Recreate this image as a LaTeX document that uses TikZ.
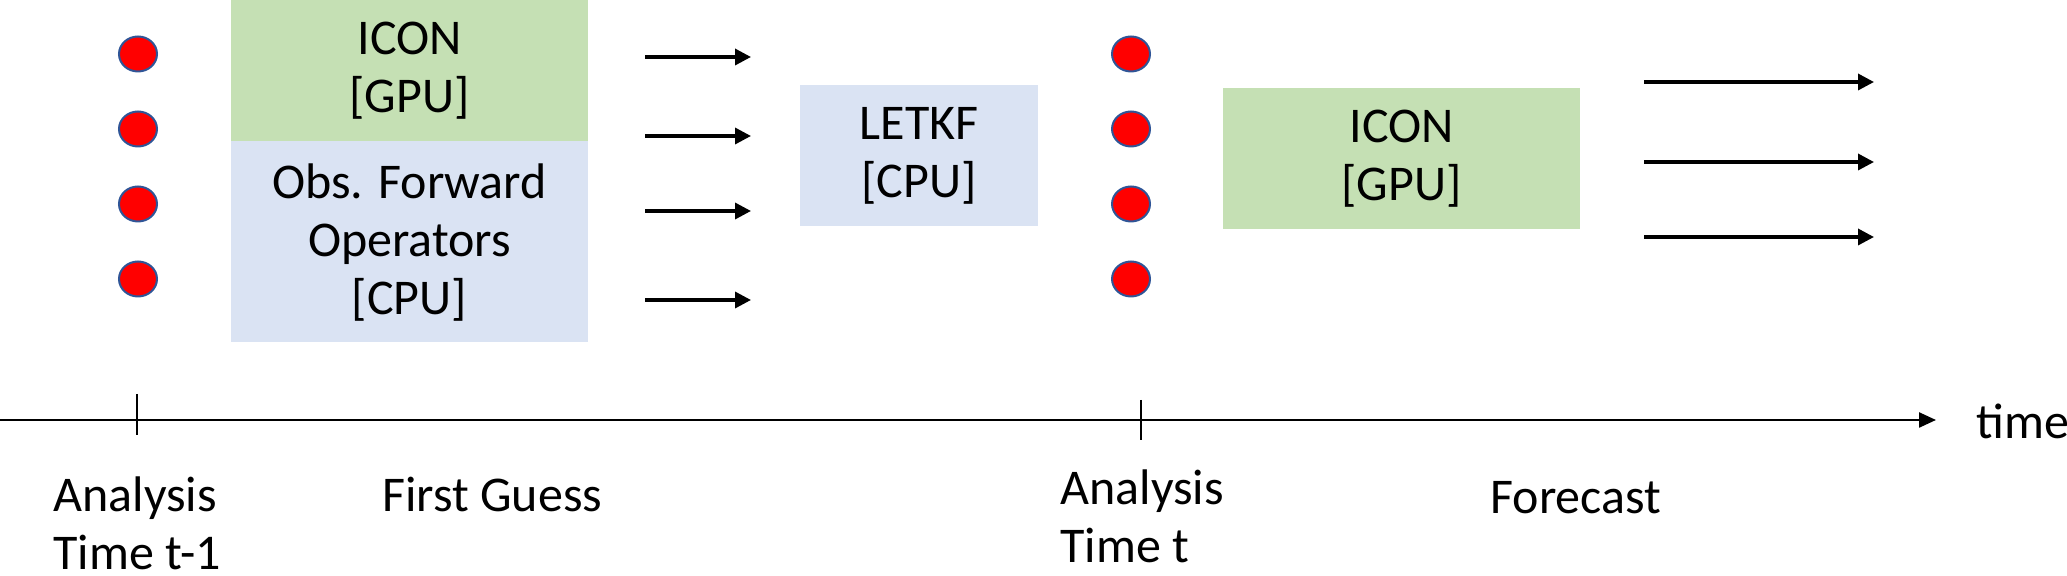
\documentclass[tikz,border=0pt]{standalone}
\usepackage{fontspec}
\setmainfont{Carlito}
\usetikzlibrary{arrows.meta,shapes.geometric}
\definecolor{boxgreen}{HTML}{C5E0B4}
\definecolor{boxblue}{HTML}{DAE3F3}
\definecolor{dotedge}{HTML}{2F5597}
\tikzset{
  box/.style={inner sep=0pt, align=center, font=\fontsize{25}{29}\selectfont},
  dot/.style={ellipse, fill=red, draw=dotedge, line width=1pt, minimum width=19pt, minimum height=17.5pt, inner sep=0pt},
  flow/.style={line width=1.7pt, -{Triangle[length=8pt,width=8pt]}},
  axis/.style={line width=1.2pt, -{Triangle[length=8.5pt,width=7.5pt]}},
  tick/.style={line width=1.1pt},
  lbl/.style={inner sep=0pt, align=left, font=\fontsize{25}{29}\selectfont},
}
\begin{document}
\begin{tikzpicture}[x=0.5pt,y=-0.5pt]
\useasboundingbox (0,0) rectangle (2067,576);
% boxes
\fill[boxgreen] (231,0) rectangle (588,141);
\node[box] (icon1) at (409.5,70.5) {ICON\\[0pt][GPU]};
\fill[boxblue] (231,141) rectangle (588,342);
\node[box] (obs) at (409.5,243) {Obs. Forward\\Operators\\[0pt][CPU]};
\fill[boxblue] (800,85) rectangle (1038,226);
\node[box] (letkf) at (919,155.5) {LETKF\\[0pt][CPU]};
\fill[boxgreen] (1223,88) rectangle (1580,229);
\node[box] (icon2) at (1401.5,158.5) {ICON\\[0pt][GPU]};
% dots
\foreach \i/\y in {1/54,2/129,3/204,4/279}{
  \node[dot] (a\i) at (138,\y) {};
  \node[dot] (b\i) at (1131,\y) {};
}
% first guess arrows
\foreach \i/\y in {1/57,2/136,3/211,4/300}{
  \coordinate (fs\i) at (645,\y);
  \coordinate (fe\i) at (751,\y);
  \draw[flow] (fs\i) -- (fe\i);
}
% forecast arrows
\foreach \i/\y in {1/82,2/162,3/237}{
  \coordinate (gs\i) at (1644,\y);
  \coordinate (ge\i) at (1874,\y);
  \draw[flow] (gs\i) -- (ge\i);
}
% time axis
\coordinate (t0) at (0,420);
\coordinate (t1) at (1936,420);
\draw[axis] (t0) -- (t1);
\node[lbl, anchor=base west] (time) at (1976,439) {time};
\coordinate (k1a) at (137,394); \coordinate (k1b) at (137,435);
\draw[tick] (k1a) -- (k1b);
\coordinate (k2a) at (1141,400); \coordinate (k2b) at (1141,440);
\draw[tick] (k2a) -- (k2b);
% labels (base anchor = baseline of last line)
\node[lbl, anchor=base west] (an1) at (53,570) {Analysis\\Time t-1};
\node[lbl, anchor=base west] (fg) at (382,512) {First Guess};
\node[lbl, anchor=base west] (an2) at (1060,563) {Analysis\\Time t};
\node[lbl, anchor=base west] (fc) at (1490,514) {Forecast};
\end{tikzpicture}
\end{document}
